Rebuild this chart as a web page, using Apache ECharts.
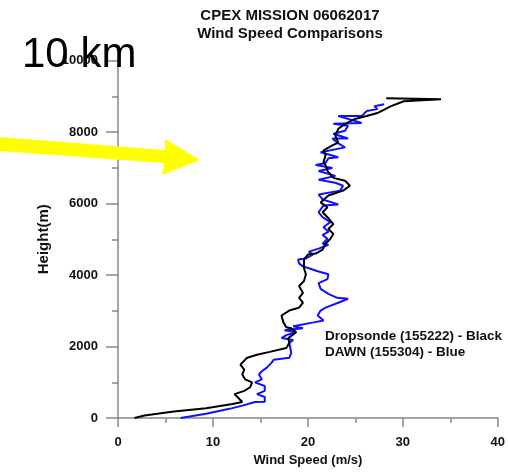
<!DOCTYPE html>
<html><head><meta charset="utf-8">
<script src="https://cdn.jsdelivr.net/npm/echarts@6/dist/echarts.min.js"></script>
<style>html,body{margin:0;padding:0;background:#fff}#c{width:508px;height:472px}</style>
</head><body><div id="c"></div>
<script>
// Dropsonde (black): wind speed (m/s) and height (m)
const dropSpeed = [1.75,2.78,5.88,9.28,12.06,13.09,12.58,12.27,13.3,13.92,14.12,13.4,13.09,13.3,12.89,13.6,14.64,15.98,17.73,18.04,17.94,18.76,18.25,17.73,17.42,17.22,18.04,19.07,19.48,19.07,19.48,19.07,19.59,19.79,19.59,19.59,20.0,20.82,21.55,21.86,22.37,22.68,22.16,22.68,22.06,21.55,22.06,21.34,22.16,23.71,24.43,23.92,22.68,22.06,21.86,21.65,21.86,21.65,22.58,23.2,22.89,23.2,23.92,24.95,26.19,27.32,28.76,30.1,34.02,28.25];
const dropHeight = [0,71,181,275,393,448,586,668,759,860,998,1080,1218,1355,1493,1685,1768,1850,1960,2097,2235,2400,2510,2538,2675,2867,3005,3087,3225,3362,3500,3692,3830,4022,4187,4435,4572,4600,4710,4875,5012,5150,5287,5425,5617,5755,5892,6030,6222,6360,6497,6635,6717,6910,7075,7157,7350,7487,7625,7705,7898,8090,8228,8365,8448,8530,8723,8860,8915,8943];
// DAWN (blue)
const dawnSpeed = [6.6,9.28,11.75,13.09,14.43,15.46,15.46,14.64,15.46,15.46,14.43,15.15,14.85,15.15,15.67,16.19,16.39,18.04,18.25,18.04,18.45,17.22,17.73,18.76,17.53,19.48,18.45,20.62,21.65,21.03,21.34,21.86,23.2,24.23,23.09,22.16,21.34,21.13,22.06,22.16,21.03,20.1,19.48,19.07,18.97,19.79,20.52,20.1,21.13,22.16,21.55,22.06,21.55,22.16,21.65,22.37,21.55,21.13,21.65,23.2,21.55,21.13,23.4,23.71,22.89,21.13,22.89,21.13,22.58,20.82,21.86,22.16,23.2,21.34,23.92,23.2,22.58,24.23,22.68,23.92,24.23,22.68,25.67,23.2,25.67,26.19,27.32,27.01,28.04];
const dawnHeight = [0,118,256,346,448,456,586,668,759,896,998,1080,1218,1308,1410,1548,1630,1685,1823,2097,2180,2235,2317,2400,2455,2510,2565,2675,2730,2867,3005,3087,3225,3335,3362,3472,3610,3775,3885,4022,4105,4187,4242,4325,4435,4462,4572,4655,4737,4847,4875,5012,5122,5205,5342,5480,5617,5755,5947,5975,6112,6250,6360,6497,6580,6662,6772,6910,6992,7075,7130,7267,7295,7432,7570,7680,7817,7817,7953,8035,8173,8228,8255,8448,8448,8585,8640,8723,8778];
const xTicks = [0,10,20,30,40];
const yTicks = [0,2000,4000,6000,8000,10000];
const titleLines = ['CPEX MISSION 06062017','Wind Speed Comparisons'];
const legendLines = ['Dropsonde (155222) - Black','DAWN (155304) - Blue'];

const FONT = '"Liberation Sans", Arial, sans-serif';
const chart = echarts.init(document.getElementById('c'), null, {renderer:'canvas'});
const pairs = (xs, ys) => xs.map((v,i)=>[v, ys[i]]);
chart.setOption({
  animation:false,
  backgroundColor:'#fff',
  title:{text:titleLines.join('\n'), left:285, textAlign:'center', top:2,
    textStyle:{fontFamily:FONT, fontSize:15, fontWeight:'bold', color:'#111', lineHeight:18}},
  grid:{left:118, right:2, top:60.5, bottom:47.7},
  xAxis:{type:'value', min:xTicks[0], max:xTicks[xTicks.length-1], interval:10,
    name:'Wind Speed (m/s)', nameLocation:'middle', nameGap:36,
    nameTextStyle:{fontFamily:FONT, fontSize:13, fontWeight:'bold', color:'#111'},
    axisLine:{show:true, lineStyle:{color:'#888', width:1.5}},
    axisTick:{show:true, length:9, lineStyle:{color:'#888', width:1.5}},
    minorTick:{show:true, splitNumber:2, length:5, lineStyle:{color:'#888', width:1.5}},
    splitLine:{show:false},
    axisLabel:{margin:18, fontFamily:FONT, fontSize:13, fontWeight:'bold', color:'#111'}},
  yAxis:{type:'value', min:yTicks[0], max:yTicks[yTicks.length-1], interval:2000,
    name:'Height(m)', nameLocation:'middle', nameGap:64, nameRotate:90,
    nameTextStyle:{fontFamily:FONT, fontSize:15, fontWeight:'bold', color:'#111'},
    axisLine:{show:true, lineStyle:{color:'#888', width:1.5}},
    axisTick:{show:true, length:12, lineStyle:{color:'#888', width:1.5}},
    minorTick:{show:true, splitNumber:2, length:6, lineStyle:{color:'#888', width:1.5}},
    splitLine:{show:false},
    axisLabel:{margin:20, fontFamily:FONT, fontSize:13, fontWeight:'bold', color:'#111',
      formatter:(v)=>String(v)}},
  series:[
    {type:'line', data:pairs(dropSpeed, dropHeight), showSymbol:false, symbol:'none',
      lineStyle:{color:'#000', width:2}, z:3},
    {type:'line', data:pairs(dawnSpeed, dawnHeight), showSymbol:false, symbol:'none',
      lineStyle:{color:'#1010ff', width:2}, z:2}
  ],
  graphic:[
    {type:'polygon', z:100, shape:{points:[[0,137],[165,150],[165,139],[200,160],[162,175],[164,163],[0,151]]},
      style:{fill:'#ffff00'}},
    {type:'text', z:100, left:22, top:34, style:{text:'10 km', font:'42px '+FONT, fill:'#000'}},
    {type:'text', z:100, left:325, top:328, style:{text:legendLines.join('\n'), fontFamily:FONT, fontSize:13.5, fontWeight:'bold', fill:'#111', lineHeight:16}}
  ]
});
</script></body></html>
